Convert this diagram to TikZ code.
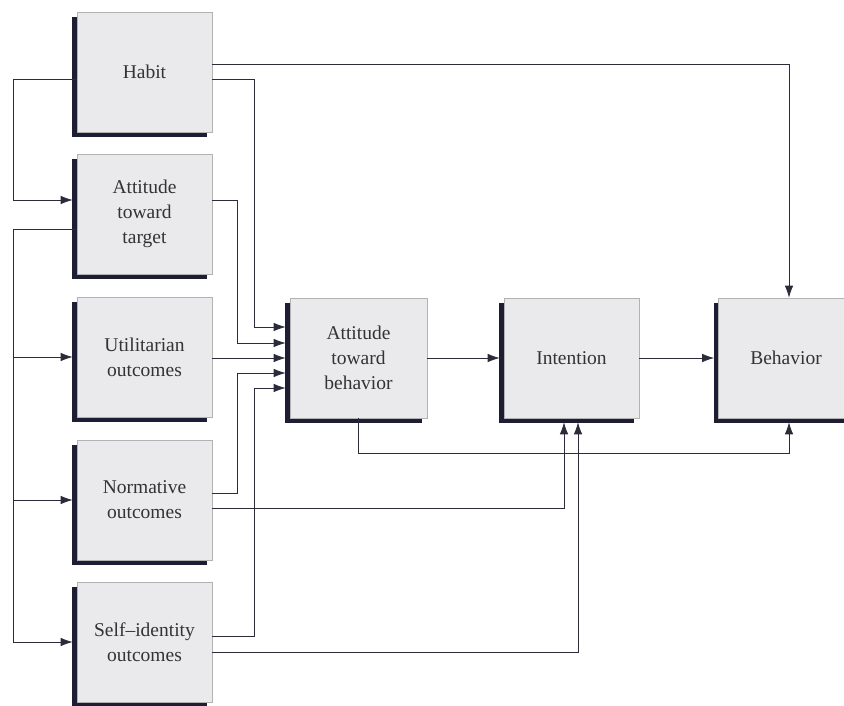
\documentclass[tikz,border=0pt]{standalone}
\usepackage{fontspec}
\setmainfont{Liberation Serif}
\usetikzlibrary{shadows,arrows.meta}
\definecolor{boxfill}{HTML}{EAEAEC}
\definecolor{boxshadow}{HTML}{1D1D33}
\definecolor{wire}{HTML}{2B2B3A}
\begin{document}
\begin{tikzpicture}[x=1pt,y=-1pt,
		box/.style={draw=gray!60, fill=boxfill, line width=0.6pt, minimum width=135pt, minimum height=120pt, inner sep=0pt, align=center, text=black!80, font=\fontsize{19.5}{25}\selectfont, general shadow={fill=boxshadow, shadow xshift=-5pt, shadow yshift=-5pt}},
		feed/.style={draw=wire, line width=0.8pt, -{Latex[length=12pt,width=8.5pt]}, shorten >=4pt}]
			\useasboundingbox (0,0) rectangle (844,706);
			\node[box] (habit) at (144.5,72) {Habit};
			\node[box] (target) at (144.5,214) {Attitude\\toward\\target};
			\node[box] (util) at (144.5,357) {Utilitarian\\outcomes};
			\node[box] (norm) at (144.5,500) {Normative\\outcomes};
			\node[box] (self) at (144.5,642) {Self--identity\\outcomes};
			\node[box, minimum width=137pt] (atb) at (358.5,358) {Attitude\\toward\\behavior};
			\node[box] (intention) at (571.5,358) {Intention};
			\node[box] (behavior) at (786,358) {Behavior};
			\draw[feed, shorten >=0pt] ([yshift=8pt]habit.east) -| ([xshift=3pt]behavior.north);
			\draw[feed] ([yshift=-7pt]habit.east) -- ++(42,0) |- ([yshift=31pt]atb.west);
			\draw[feed] ([yshift=14pt]target.east) -- ++(25,0) |- ([yshift=15pt]atb.west);
			\draw[feed] (util.east |- atb.west) -- (atb.west);
			\draw[feed] ([yshift=7pt]norm.east) -- ++(25,0) |- ([yshift=-15pt]atb.west);
			\draw[feed] ([yshift=6pt]self.east) -- ++(42,0) |- ([yshift=-30pt]atb.west);
			\draw[feed] ([yshift=-8pt]norm.east) -| ([xshift=-7.5pt]intention.south);
			\draw[feed] ([yshift=-10pt]self.east) -| ([xshift=6.5pt]intention.south);
			\draw[feed] (atb.south) -- ++(0,35) -| ([xshift=3pt]behavior.south);
			\draw[feed] (atb) -- (intention);
			\draw[feed] (intention) -- (behavior);
			\draw[feed] ([yshift=-7pt]habit.west) -- ++(-63,0) |- ([yshift=14pt]target.west);
			\draw[feed] ([yshift=-15pt]target.west) -- ++(-63,0) coordinate (bus) |- (self.west);
			\draw[feed] (bus |- util.west) -- (util.west);
			\draw[feed] (bus |- norm.west) -- (norm.west);
		\end{tikzpicture}
\end{document}
